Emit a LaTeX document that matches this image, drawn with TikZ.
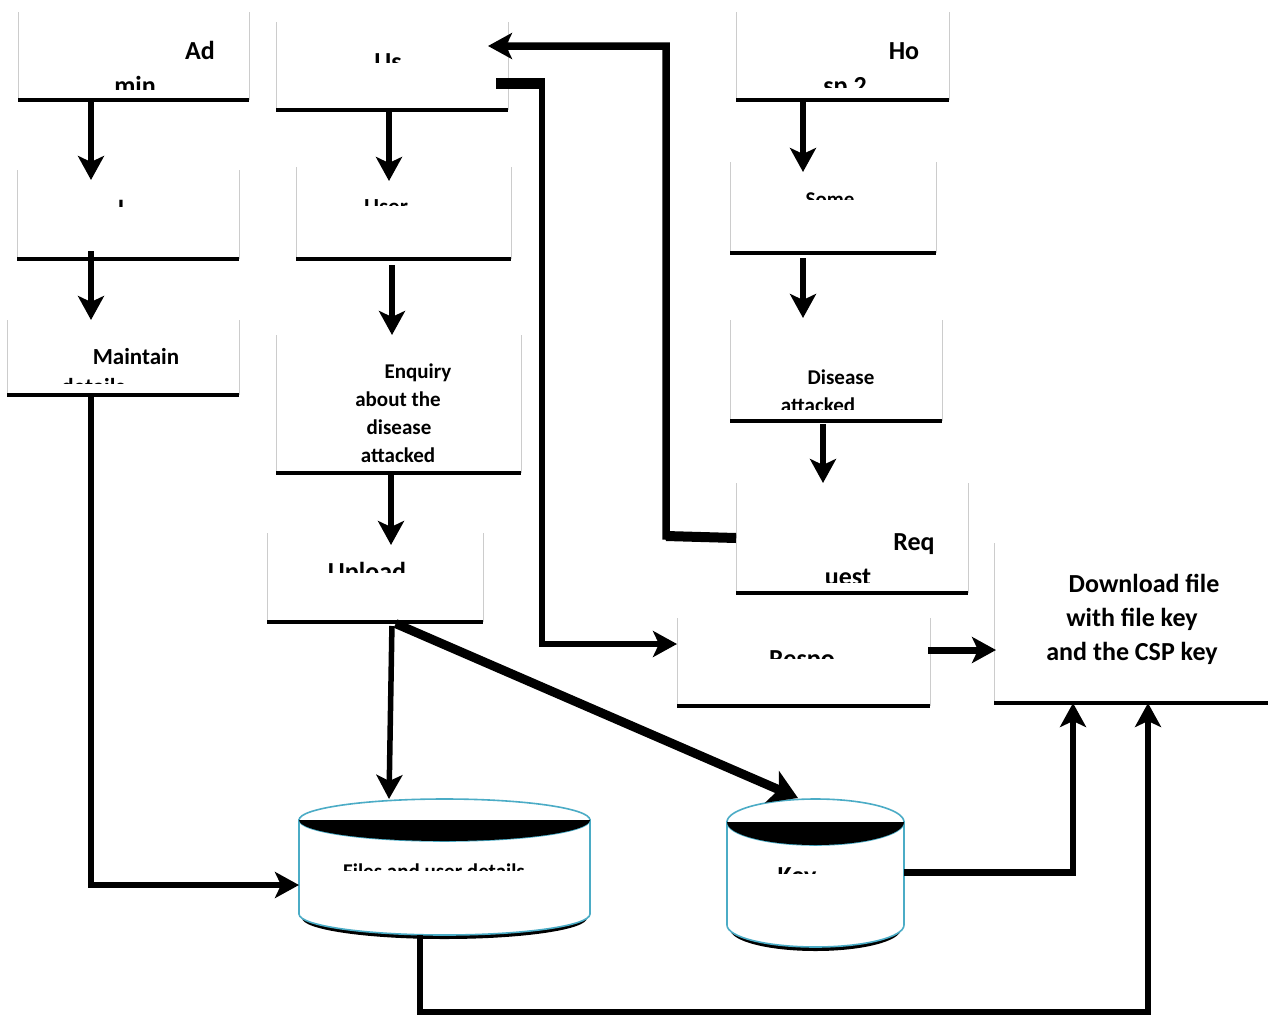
\documentclass[tikz,border=0pt]{standalone}
\usepackage{fontspec}
\setmainfont{Carlito}
\usetikzlibrary{arrows.meta,calc}
\definecolor{cylc}{HTML}{4BACC6}
\tikzset{
  side/.style={draw=black!20, line width=0.9pt},
  baseln/.style={line width=3.6pt},
  arr/.style={line width=5.5pt, -{Stealth[length=24pt,width=26pt,inset=6pt]}},
  arrthick/.style={line width=9pt, -{Stealth[length=28pt,width=34pt,inset=7pt]}},
  big/.style={font=\bfseries\fontsize{26}{30}\selectfont, anchor=base, inner sep=0pt},
  mid/.style={font=\bfseries\fontsize{21}{26}\selectfont, anchor=base, inner sep=0pt},
  midb/.style={font=\bfseries\fontsize{23}{28}\selectfont, anchor=base, inner sep=0pt},
  frame/.style={inner sep=0pt, outer sep=0pt, anchor=north west},
  cylline/.style={draw=cylc, line width=1.6pt},
}
\newcommand\wbox[5]{%
  \node[frame, minimum width={(#4-#2)*1pt}, minimum height={(#5-#3)*1pt}] (#1) at (#2,#3) {};
  \draw[side] (#1.north west) -- (#1.south west) (#1.north east) -- (#1.south east);
  \draw[baseln] (#1.south west) -- (#1.south east);}
\begin{document}
\begin{tikzpicture}[x=1pt,y=-1pt]
\fill[white] (0,0) rectangle (1268,1017);
\useasboundingbox (0,0) rectangle (1268,1017);

% boxes
\wbox{admin}{18}{12}{249}{100}
\wbox{us}{276}{22}{508}{110}
\wbox{hosp}{736}{12}{949}{100}
\wbox{login}{17}{170}{239}{259}
\wbox{user}{296}{167}{511}{259}
\wbox{some}{730}{162}{936}{253}
\wbox{maint}{7}{320}{239}{395}
\wbox{enq}{276}{335}{521}{473}
\wbox{dis}{730}{320}{942}{421}
\wbox{upload}{267}{533}{483}{622}
\wbox{request}{736}{483}{968}{593}
\wbox{respo}{677}{618}{930}{706}
\wbox{download}{994}{543}{1268}{703}

% texts
\begin{scope}
  \clip (18,12) rectangle (249,89);
  \node[big] (tad) at (200,59) {Ad};
  \node[big] (tmin) at (135,94) {min};
\end{scope}
\begin{scope}
  \clip (276,22) rectangle (508,62);
  \node[big] (tus) at (388,70) {Us};
\end{scope}
\begin{scope}
  \clip (736,12) rectangle (949,87);
  \node[big] (tho) at (904,59) {Ho};
  \node[big] (tsp) at (845,94.5) {sp 2};
\end{scope}
\begin{scope}
  \clip (17,170) rectangle (239,206);
  \node[big] (tl) at (121,218) {l};
\end{scope}
\begin{scope}
  \clip (296,167) rectangle (511,205);
  \node[midb] (tuser) at (386,214) {User};
\end{scope}
\begin{scope}
  \clip (730,162) rectangle (936,199);
  \node[mid] (tsome) at (830,206) {Some};
\end{scope}
\begin{scope}
  \clip (7,320) rectangle (239,383);
  \node[midb] (tmaint) at (136,364) {Maintain};
  \node[midb] (tdet) at (93,394) {details};
\end{scope}
\node[mid] (te1) at (418,378) {Enquiry};
\node[mid] (te2) at (398,406) {about the};
\node[mid] (te3) at (399,434) {disease};
\node[mid] (te4) at (398,462) {attacked};
\begin{scope}
  \clip (730,320) rectangle (942,409);
  \node[mid] (tdis) at (841,384) {Disease};
  \node[mid] (tatt) at (818,412) {attacked};
\end{scope}
\begin{scope}
  \clip (267,533) rectangle (483,572);
  \node[big] (tup) at (367,580) {Upload};
\end{scope}
\begin{scope}
  \clip (736,483) rectangle (968,582);
  \node[big] (treq) at (914,550) {Req};
  \node[big] (tuest) at (848,585) {uest};
\end{scope}
\begin{scope}
  \clip (677,618) rectangle (930,658);
  \node[big] (tresp) at (802,667) {Respo};
\end{scope}
\node[big] (td1) at (1144,592) {Download file};
\node[big] (td2) at (1132,626) {with file key};
\node[big] (td3) at (1132,660) {and the CSP key};

% cylinder: files
\fill[black] (302,918) arc[start angle=180,end angle=360,x radius=142.5pt,y radius=21pt] -- cycle;
\filldraw[fill=white, cylline] (299,820) -- (299,914) arc[start angle=180,end angle=360,x radius=145.5pt,y radius=21pt] -- (590,820) -- cycle;
\filldraw[fill=white, cylline] (444.5,820) ellipse [x radius=145.5pt, y radius=21pt];
\fill[black] (299,820) arc[start angle=180,end angle=360,x radius=145.5pt,y radius=21pt] -- cycle;
\node[frame, minimum width=291pt, minimum height=136pt] (files) at (299,799) {};
\begin{scope}
  \clip (300,842) rectangle (589,870);
  \node[mid] (tfiles) at (434,878.5) {Files and user details};
\end{scope}

% cylinder: key
\fill[black] (730,929) arc[start angle=180,end angle=360,x radius=85.5pt,y radius=22pt] -- cycle;
\filldraw[fill=white, cylline] (727,822) -- (727,925) arc[start angle=180,end angle=360,x radius=88.5pt,y radius=22pt] -- (904,822) -- cycle;
\filldraw[fill=white, cylline] (815.5,822) ellipse [x radius=88.5pt, y radius=23pt];
\fill[black] (727,822) arc[start angle=180,end angle=360,x radius=88.5pt,y radius=23pt] -- cycle;
\node[frame, minimum width=177pt, minimum height=149pt] (key) at (727,798) {};
\begin{scope}
  \clip (728,846) rectangle (903,873);
  \node[big] (tkey) at (797,884) {Key};
\end{scope}

% connectors
\draw[arr, shorten >=-10pt] (91,0 |- admin.south) -- (91,0 |- login.north);
\draw[arr, shorten <=-8pt] (91,0 |- login.south) -- (91,0 |- maint.north);
\draw[arr] (91,0 |- maint.south) |- ([yshift=-18pt]files.west);
\draw[arr, shorten >=-14pt] (389,0 |- us.south) -- (389,0 |- user.north);
\draw[arr, shorten <=6pt] (392,0 |- user.south) -- (392,0 |- enq.north);
\draw[arr, shorten >=-12pt] (391,0 |- enq.south) -- (391,0 |- upload.north);
\draw[arr, shorten <=4pt] (392,0 |- upload.south) -- (389,0 |- files.north);
\draw[arrthick, shorten <=4pt] (392,0 |- upload.south) -- (798,0 |- key.north);
\draw[line width=11pt] ([xshift=-12pt,yshift=-17pt]us.east) -- (545,83);
\draw[arr] ([xshift=-12pt,yshift=-17pt]us.east) -- (542,83) -- (542,644) -- ([yshift=18pt]respo.west);
\draw[line width=10pt] (request.west) -- (666,536);
\draw[arr, line width=7.5pt] (request.west) -- (666,536) -- (666,46) -- ([xshift=-20pt,yshift=20pt]us.east);
\draw[arr, shorten >=-10pt] (803,0 |- hosp.south) -- (803,0 |- some.north);
\draw[arr, shorten <=5pt, shorten >=2pt] (803,0 |- some.south) -- (803,0 |- dis.north);
\draw[arr, shorten <=3pt] (823,0 |- dis.south) -- (823,0 |- request.north);
\draw[arr, line width=7pt] ([xshift=-2pt,yshift=12pt]respo.east) -- ([xshift=2pt,yshift=12pt]respo.east -| download.west);
\draw[arr, line width=6.5pt] (key.east) -| (1073,0 |- download.south);
\draw[arr, line width=5.5pt] (420,0 |- files.south) -- (420,1012) -| (1148,0 |- download.south);
\end{tikzpicture}
\end{document}
